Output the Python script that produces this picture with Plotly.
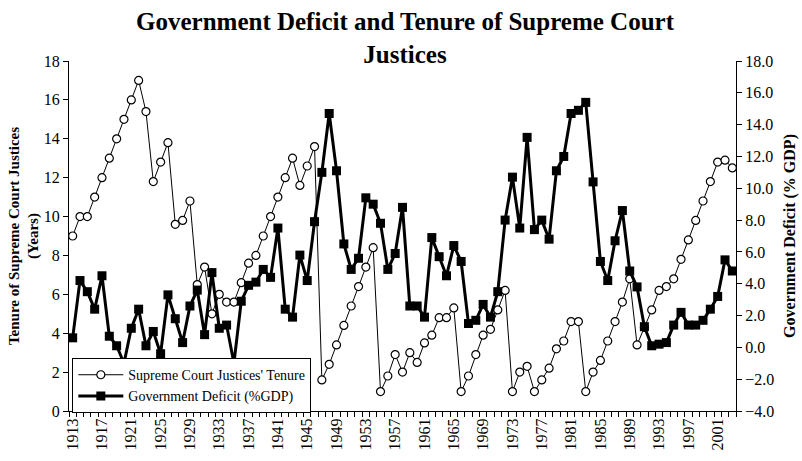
import plotly.graph_objects as go

years = list(range(1913, 2004))

tenure = [
    9.0, 10.0, 10.0, 11.0, 12.0, 13.0, 14.0, 15.0, 16.0, 17.0,   # 1913-1922
    15.4, 11.8, 12.8, 13.8, 9.6, 9.8, 10.8, 6.5, 7.4, 5.0,       # 1923-1932
    6.0, 5.6, 5.6, 6.6, 7.6, 8.0, 9.0, 10.0, 11.0, 12.0,         # 1933-1942
    13.0, 11.6, 12.6, 13.6, 1.6, 2.4, 3.4, 4.4, 5.4, 6.4,        # 1943-1952
    7.4, 8.4, 1.0, 1.8, 2.9, 2.0, 3.0, 2.5, 3.5, 3.9,            # 1953-1962
    4.8, 4.8, 5.3, 1.0, 1.8, 2.9, 3.9, 4.2, 5.2, 6.2,            # 1963-1972
    1.0, 2.0, 2.3, 1.0, 1.6, 2.2, 3.2, 3.6, 4.6, 4.6,            # 1973-1982
    1.0, 2.0, 2.6, 3.6, 4.6, 5.6, 6.8, 3.4, 4.3, 5.2,            # 1983-1992
    6.2, 6.4, 6.8, 7.8, 8.8, 9.8, 10.8, 11.8, 12.8, 12.9,        # 1993-2002
    12.5,                                                        # 2003
]

deficit = [
    0.6, 4.2, 3.5, 2.4, 4.5, 0.7, 0.1, -1.0, 1.2, 2.4,           # 1913-1922
    0.1, 1.0, -0.4, 3.3, 1.8, 0.3, 2.6, 3.6, 0.8, 4.7,           # 1923-1932
    1.2, 1.4, -1.0, 2.9, 3.9, 4.1, 4.9, 4.4, 7.5, 2.4,           # 1933-1942
    1.9, 5.8, 4.2, 7.9, 11.0, 14.7, 11.1, 6.5, 4.9, 5.6,         # 1943-1952
    9.4, 9.0, 7.8, 4.9, 5.9, 8.8, 2.6, 2.6, 1.9, 6.9,            # 1953-1962
    5.7, 4.5, 6.4, 5.4, 1.5, 1.7, 2.7, 1.9, 3.5, 8.0,            # 1963-1972
    10.7, 7.5, 13.2, 7.4, 8.0, 6.8, 11.1, 12.0, 14.7, 14.9,      # 1973-1982
    15.4, 10.4, 5.4, 4.2, 6.7, 8.6, 4.8, 3.8, 1.3, 0.1,          # 1983-1992
    0.2, 0.3, 1.4, 2.2, 1.4, 1.4, 1.7, 2.4, 3.2, 5.5,            # 1993-2002
    4.8,                                                         # 2003
]

x_tick_years = [1913, 1917, 1921, 1925, 1929, 1933, 1937, 1941, 1945, 1949,
                1953, 1957, 1961, 1965, 1969, 1973, 1977, 1981, 1985, 1989,
                1993, 1997, 2001]
x_tick_labels = [str(y) for y in x_tick_years]

left_ticks = [0, 2, 4, 6, 8, 10, 12, 14, 16, 18]
right_ticks = [-4, -2, 0, 2, 4, 6, 8, 10, 12, 14, 16, 18]

FONT = "Liberation Serif, Times New Roman, serif"

fig = go.Figure()
fig.add_trace(go.Scatter(
    x=years, y=tenure, name="Supreme Court Justices' Tenure",
    mode="lines+markers", yaxis="y",
    line=dict(color="black", width=1),
    marker=dict(symbol="circle", size=8, color="white",
                line=dict(color="black", width=1.2)),
))
fig.add_trace(go.Scatter(
    x=years, y=deficit, name="Government Deficit (%GDP)",
    mode="lines+markers", yaxis="y2",
    line=dict(color="black", width=3),
    marker=dict(symbol="square", size=9, color="black"),
))

fig.update_layout(
    width=802, height=461,
    margin=dict(l=69, r=66, t=61, b=50),
    paper_bgcolor="white", plot_bgcolor="white",
    font=dict(family=FONT, color="black", size=16),
    title=dict(
        text="<b>Government Deficit and Tenure of Supreme Court<br>Justices</b>",
        font=dict(family=FONT, size=25, color="black"),
        x=0.505, xref="container", xanchor="center",
        y=0.934, yref="container", yanchor="top",
    ),
    xaxis=dict(
        range=[1912.5, 2003.5], automargin=False,
        tickmode="array", tickvals=x_tick_years, ticktext=x_tick_labels,
        tickangle=-90, ticks="",
        tickfont=dict(family=FONT, size=16),
        showline=True, linecolor="black", linewidth=1,
        showgrid=False, zeroline=False,
        minor=dict(ticks="outside", tick0=1912.5, dtick=1, ticklen=5,
                   tickcolor="black", tickwidth=1, showgrid=False),
    ),
    yaxis=dict(
        range=[0, 18], tickmode="array", tickvals=left_ticks,
        automargin=False,
        ticks="outside", ticklen=5, tickcolor="black",
        showline=True, linecolor="black", linewidth=1,
        showgrid=False, zeroline=False,
        tickfont=dict(family=FONT, size=16),
        ticklabelstandoff=0,
        title=dict(text="<b>Tenure of Supreme Court Justices<br>(Years)</b>",
                   font=dict(family=FONT, size=15), standoff=1),
    ),
    yaxis2=dict(
        range=[-4, 18], tickmode="array", tickvals=right_ticks,
        tickformat=".1f", automargin=False,
        overlaying="y", side="right", anchor="x",
        ticks="outside", ticklen=5, tickcolor="black",
        showline=True, linecolor="black", linewidth=1,
        showgrid=False, zeroline=False,
        tickfont=dict(family=FONT, size=16),
        ticklabelstandoff=0,
        title=dict(text="<b>Government Deficit (% GDP)</b>",
                   font=dict(family=FONT, size=16), standoff=10),
    ),
    yaxis3=dict(
        range=[-4, 18], tickmode="array", tickvals=right_ticks,
        overlaying="y", side="right", anchor="x", automargin=False,
        ticks="inside", ticklen=5, tickcolor="black",
        showticklabels=False, showline=False,
        showgrid=False, zeroline=False,
    ),
    legend=dict(
        x=0.005, y=0.151, xanchor="left", yanchor="top",
        bgcolor="white", bordercolor="black", borderwidth=1,
        font=dict(family=FONT, size=14),
        itemwidth=45,
        tracegroupgap=0,
    ),
    showlegend=True,
)

fig.write_html("out.html", config={"displayModeBar": False},
               post_script="document.body.style.margin='0';")
